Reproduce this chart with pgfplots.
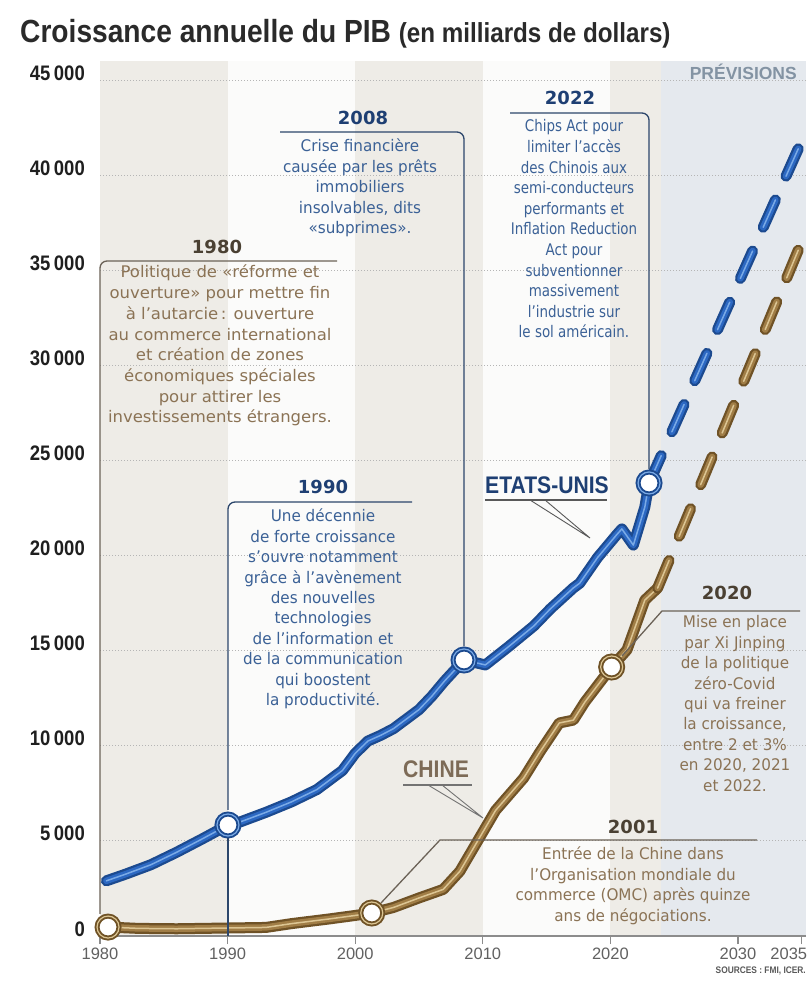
\documentclass[border=0pt]{standalone}
\usepackage{pgfplots}
\usepackage{pgfplotstable}
\pgfplotsset{compat=1.18}
\usepackage{fontspec}
\setmainfont{Liberation Sans}
\newfontfamily\lib{Liberation Sans}
\newfontfamily\libc[FakeStretch=0.88]{Liberation Sans}
\newfontfamily\ann[FakeStretch=0.95]{DejaVu Sans}
\newfontfamily\annw[FakeStretch=1.03]{DejaVu Sans}
\newfontfamily\annn[FakeStretch=0.84]{DejaVu Sans}
\newfontfamily\annb{DejaVu Sans}
\definecolor{bandA}{HTML}{EEECE7}
\definecolor{bandW}{HTML}{FBFBFA}
\definecolor{bandP}{HTML}{E5E9EE}
\definecolor{gridc}{HTML}{B5B5B5}
\definecolor{usaD}{HTML}{1C4A8F}
\definecolor{usaM}{HTML}{2C68C2}
\definecolor{usaL}{HTML}{7AAAE6}
\definecolor{chnD}{HTML}{6F5226}
\definecolor{chnM}{HTML}{A07D46}
\definecolor{chnL}{HTML}{DCC593}
\definecolor{usaTxt}{HTML}{3B6196}
\definecolor{usaYr}{HTML}{1E3F73}
\definecolor{usaFr}{HTML}{2C466B}
\definecolor{chnTxt}{HTML}{8B7355}
\definecolor{chnYr}{HTML}{4A4032}
\definecolor{chnFr}{HTML}{6B6257}
\definecolor{titc}{HTML}{2A2A2A}
\definecolor{prevc}{HTML}{8393A3}
\definecolor{chnLab}{HTML}{7D6B57}

\newcommand\annf{\ann\fontsize{16bp}{20.4bp}\selectfont}
\newcommand\annfw{\annw\fontsize{16bp}{20.7bp}\selectfont}
\newcommand\annfn{\annn\fontsize{16bp}{20.6bp}\selectfont}
\newcommand\yrf{\annb\bfseries\fontsize{18bp}{18bp}\selectfont}
\newcommand\ml[1]{\begin{tabular}[t]{@{}c@{}}#1\end{tabular}}

\pgfplotstableread{
year value
1980.5 2900
1982 3250
1984 3750
1986 4400
1988 5100
1990.03 5835
1991 6000
1993 6500
1995 7050
1997 7700
1999 8700
2000 9600
2001 10250
2002 10550
2003 10900
2004 11400
2005 11900
2006 12600
2007 13400
2008.53 14510
2010.2 14250
2012 15200
2014 16300
2015.3 17200
2017.1 18300
2017.6 18550
2019 19900
2020.5 21100
2020.9 21400
2021.8 20550
2022.7 22550
2023.03 23815
}\usa
\pgfplotstableread{
year value
2023.03 23815
2035 41800
}\usaf
\pgfplotstableread{
year value
1980.63 470
1983 400
1986 380
1990 420
1993 450
1995 650
1998 900
2000 1080
2001.3 1209
2003 1500
2005 2000
2006.9 2450
2008.2 3400
2009.6 5000
2011 6600
2013.2 8300
2014.5 9700
2016 11200
2017.1 11350
2018 12300
2020.1 14142
2021.3 15040
2022.7 17660
2023.7 18290
}\chn
\pgfplotstableread{
year value
2023.7 18290
2035 36500
}\chnf
\pgfplotstableread{
year value
1990.03 5835
2008.53 14510
2023.03 23815
}\usam
\pgfplotstableread{
year value
1980.63 470
2001.3 1209
2020.1 14142
}\chnm

\begin{document}
\begin{tikzpicture}
\path[use as bounding box, fill=white] (0,0) rectangle (811bp,985bp);
\begin{scope}[x=1bp, y=-1bp, yshift=985bp]
\fill[bandA] (100,61) rectangle (227.6,936);
\fill[bandW] (227.6,61) rectangle (355.2,936);
\fill[bandA] (355.2,61) rectangle (482.8,936);
\fill[bandW] (482.8,61) rectangle (610.4,936);
\fill[bandA] (610.4,61) rectangle (661.4,936);
\fill[bandP] (661.4,61) rectangle (805.6,936);
\end{scope}
\begin{axis}[
  at={(100bp,49bp)}, anchor=south west,
  scale only axis, width=705.6bp, height=875bp,
  xmin=1980, xmax=2035.3, ymin=0, ymax=46000,
  clip=false,
  scaled y ticks=false, scaled x ticks=false,
  axis x line*=bottom, axis y line*=left,
  x axis line style={draw=black!45, line width=1.2bp, -},
  y axis line style={draw=none, -},
  xtick={1980,1990,2000,2010,2020,2030},
  xticklabels={1980,1990,2000,2010,2020,2030},
  extra x ticks={2035}, extra x tick labels={2035},
  extra x tick style={xticklabel style={xshift=-13bp}},
  xtick align=outside, major tick length=8bp,
  xtick style={draw=black!45, line width=1.2bp},
  ytick={0,5000,...,45000},
  yticklabels={0,5\,000,10\,000,15\,000,20\,000,25\,000,30\,000,35\,000,40\,000,45\,000},
  ytick style={draw=none},
  ymajorgrids, grid style={gridc, line width=1bp, dash pattern=on 1bp off 2bp},
  yticklabel style={font=\libc\bfseries\fontsize{21bp}{21bp}\selectfont, text=black!88, anchor=base east, inner sep=0pt, xshift=-15bp},
  xticklabel style={font=\lib\fontsize{16.5bp}{16.5bp}\selectfont, text=black!62, anchor=north, inner sep=0pt, yshift=-4bp},
]
\addplot[mark=none, usaD, line width=11bp, line join=round, line cap=round] table {\usa};
\addplot[mark=none, usaM, line width=6.5bp, line join=round, line cap=round] table {\usa};
\addplot[mark=none, usaL, line width=1.5bp, line join=round, line cap=round] table {\usa};
\addplot[mark=none, usaD, line width=11bp, line cap=round, dash pattern=on 30bp off 26bp] table {\usaf};
\addplot[mark=none, usaM, line width=6.5bp, line cap=round, dash pattern=on 30bp off 26bp] table {\usaf};
\addplot[mark=none, usaL, line width=1.5bp, line cap=round, dash pattern=on 30bp off 26bp] table {\usaf};

\addplot[mark=none, chnD, line width=11bp, line join=round, line cap=round] table {\chn};
\addplot[mark=none, chnM, line width=6.5bp, line join=round, line cap=round] table {\chn};
\addplot[mark=none, chnL, line width=1.5bp, line join=round, line cap=round] table {\chn};
\addplot[mark=none, chnD, line width=11bp, line cap=round, dash pattern=on 30bp off 26bp] table {\chnf};
\addplot[mark=none, chnM, line width=6.5bp, line cap=round, dash pattern=on 30bp off 26bp] table {\chnf};
\addplot[mark=none, chnL, line width=1.5bp, line cap=round, dash pattern=on 30bp off 26bp] table {\chnf};

\addplot[only marks, mark=*, mark size=11bp, mark options={fill=white, draw=usaD, line width=5bp}] table {\usam};
\addplot[only marks, mark=o, mark size=11bp, mark options={draw=usaL, line width=1.2bp}] table {\usam};
\addplot[only marks, mark=*, mark size=11bp, mark options={fill=white, draw=chnD, line width=5bp}] table {\chnm};
\addplot[only marks, mark=o, mark size=11bp, mark options={draw=chnL, line width=1.2bp}] table {\chnm};
\end{axis}

\begin{scope}[x=1bp, y=-1bp, yshift=985bp]
% title
\node[anchor=base west, inner sep=0, text=titc] at (20,43) {\libc\bfseries\fontsize{32bp}{32bp}\selectfont Croissance annuelle du PIB \fontsize{27.5bp}{27.5bp}\selectfont(en milliards de dollars)};
\node[anchor=base east, inner sep=0, text=prevc, font=\lib\bfseries\fontsize{17.5bp}{17.5bp}\selectfont] at (797,80) {PRÉVISIONS};

% 1980 box
\draw[chnFr, line width=1.3bp, rounded corners=7bp] (337,261) -- (100,261) -- (100,914);
\node[anchor=base, inner sep=0, text=chnYr, font=\yrf] at (217,254) {1980};
\node[anchor=base, inner sep=0, text=chnTxt, font=\annfw] at (220,278) {\ml{Politique de «réforme et\\ouverture» pour mettre fin\\à l’autarcie\,: ouverture\\au commerce international\\et création de zones\\économiques spéciales\\pour attirer les\\investissements étrangers.}};

% 1990 box
\draw[usaFr, line width=1.3bp, rounded corners=7bp] (412,502) -- (228,502) -- (228,810);
\draw[usaFr, line width=1.3bp] (228,838) -- (228,936);
\node[anchor=base, inner sep=0, text=usaYr, font=\yrf] at (323,494) {1990};
\node[anchor=base, inner sep=0, text=usaTxt, font=\annf] at (323,522) {\ml{Une décennie\\de forte croissance\\s’ouvre notamment\\grâce à l’avènement\\des nouvelles\\technologies\\de l’information et\\de la communication\\qui boostent\\la productivité.}};

% 2008 box
\draw[usaFr, line width=1.3bp, rounded corners=7bp] (280,132) -- (464,132) -- (464,646);
\node[anchor=base, inner sep=0, text=usaYr, font=\yrf] at (363,125) {2008};
\node[anchor=base, inner sep=0, text=usaTxt, font=\annf] at (360,152) {\ml{Crise financière\\causée par les prêts\\immobiliers\\insolvables, dits\\«subprimes».}};

% 2022 box
\draw[usaFr, line width=1.3bp, rounded corners=7bp] (510,113) -- (649,113) -- (649,469);
\node[anchor=base, inner sep=0, text=usaYr, font=\yrf] at (570,105) {2022};
\node[anchor=base, inner sep=0, text=usaTxt, font=\annfn] at (574,132) {\ml{Chips Act pour\\limiter l’accès\\des Chinois aux\\semi-conducteurs\\performants et\\Inflation Reduction\\Act pour\\subventionner\\massivement\\l’industrie sur\\le sol américain.}};

% 2020 box
\draw[chnFr, line width=1.3bp] (800,611) -- (662,611) -- (622,656);
\node[anchor=base, inner sep=0, text=chnYr, font=\yrf] at (727,600) {2020};
\node[anchor=base, inner sep=0, text=chnTxt, font=\annf] at (735,628) {\ml{Mise en place\\par Xi Jinping\\de la politique\\zéro-Covid\\qui va freiner\\la croissance,\\entre 2 et 3\%\\en 2020, 2021\\et 2022.}};

% 2001 box
\draw[chnFr, line width=1.3bp] (757,840) -- (440,840) -- (381,903);
\node[anchor=base, inner sep=0, text=chnYr, font=\yrf] at (633,834) {2001};
\node[anchor=base, inner sep=0, text=chnTxt, font=\annf] at (633,860) {\ml{Entrée de la Chine dans\\l’Organisation mondiale du\\commerce (OMC) après quinze\\ans de négociations.}};

% series callouts
\node[anchor=base west, inner sep=0, text=usaYr, font=\libc\bfseries\fontsize{24bp}{24bp}\selectfont] at (485,494) {ETATS-UNIS};
\draw[black!65, line width=1.1bp] (485,500) -- (607,500);
\draw[black!65, line width=0.9bp] (530,500) -- (590,538) -- (545,500);
\node[anchor=base west, inner sep=0, text=chnLab, font=\libc\bfseries\fontsize{24bp}{24bp}\selectfont] at (403,778) {CHINE};
\draw[black!55, line width=1.1bp] (403,785) -- (472,785);
\draw[black!55, line width=0.9bp] (428,785) -- (483,818) -- (442,785);

\node[anchor=base east, inner sep=0, text=black!65, font=\libc\bfseries\fontsize{9.5bp}{9.5bp}\selectfont] at (806,974) {SOURCES : FMI, ICER.};
\end{scope}
\end{tikzpicture}
\end{document}
